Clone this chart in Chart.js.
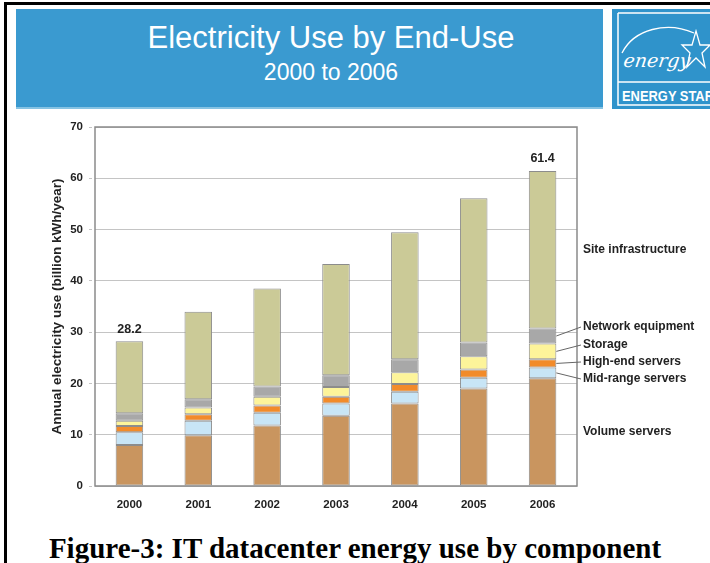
<!DOCTYPE html>
<html>
<head>
<meta charset="utf-8">
<script src="https://cdn.jsdelivr.net/npm/chart.js@4.4.1/dist/chart.umd.min.js"></script>
<style>
  html, body { margin: 0; padding: 0; background: #ffffff; }
  body { width: 710px; height: 563px; position: relative; overflow: hidden; font-family: "Liberation Sans", Arial, sans-serif; }
  .frame-top { position: absolute; left: 4px; top: 2px; width: 706px; height: 3px; background: #000; }
  .frame-left { position: absolute; left: 4px; top: 2px; width: 3px; height: 561px; background: #000; }
  .banner { position: absolute; left: 16px; top: 9px; width: 587px; height: 98px; background: #3a9ad0; border-bottom: 2px solid #86c3e3; color: #fff; text-align: center; }
  .banner .t1 { position: absolute; left: 0; right: -43px; top: 11px; font-size: 31px; line-height: 36px; }
  .banner .t2 { position: absolute; left: 0; right: -43px; top: 50px; font-size: 23px; line-height: 26px; }
  .logo { position: absolute; left: 612px; top: 9px; width: 98px; height: 100px; }
  .caption { position: absolute; left: 0; width: 710px; top: 531px; text-align: center; font-family: "Liberation Serif", "Times New Roman", serif; font-weight: bold; font-size: 29px; line-height: 34px; color: #000; }
  #chart { position: absolute; left: 0; top: 0; }
</style>
</head>
<body>
<div class="frame-top"></div>
<div class="frame-left"></div>
<div class="banner">
  <div class="t1">Electricity Use by End-Use</div>
  <div class="t2">2000 to 2006</div>
</div>
<svg class="logo" width="98" height="100" viewBox="0 0 98 100">
  <rect x="0" y="0" width="98" height="100" fill="#2f93cb"/>
  <path d="M6 4 H98 M6 4 V96 H98" stroke="#ffffff" stroke-width="1.5" fill="none"/>
  <path d="M10 44 C 22 20, 55 12, 82 24" stroke="#ffffff" stroke-width="1.3" fill="none"/>
  <text x="11" y="58" fill="#ffffff" font-family="DejaVu Serif, serif" font-style="italic" font-size="19" transform="skewX(-8) translate(8 0)">energy</text>
  <path d="M84 22 L88 36 L98 36 L90 44 L93 58 L84 49 L75 58 L78 44 L70 36 L80 36 Z" stroke="#ffffff" stroke-width="1.3" fill="none"/>
  <line x1="6" y1="73" x2="98" y2="73" stroke="#ffffff" stroke-width="1.5"/>
  <text x="10" y="92" fill="#ffffff" font-family="Liberation Sans Narrow, Liberation Sans, sans-serif" font-weight="bold" font-size="15" textLength="92" lengthAdjust="spacingAndGlyphs">ENERGY STAR</text>
</svg>
<div class="caption">Figure-3: IT datacenter energy use by component</div>
<canvas id="chart" width="710" height="563"></canvas>
<script>
// Annual electricity use, billion kWh/year, by end-use component
const years = ['2000', '2001', '2002', '2003', '2004', '2005', '2006'];
const volumeServers      = [8.0, 9.9, 11.8, 13.7, 16.1, 19.0, 21.0];
const midRangeServers    = [2.5, 2.8, 2.5, 2.4, 2.3, 2.1, 2.1];
const highEndServers     = [1.2, 1.3, 1.4, 1.3, 1.5, 1.6, 1.6];
const storage            = [1.0, 1.3, 1.7, 1.9, 2.3, 2.6, 3.1];
const networkEquipment   = [1.5, 1.6, 2.0, 2.3, 2.5, 2.7, 2.9];
const siteInfrastructure = [14.0, 17.1, 19.1, 21.7, 24.8, 28.1, 30.7];
const seriesNames = ['Volume servers', 'Mid-range servers', 'High-end servers', 'Storage', 'Network equipment', 'Site infrastructure'];
const totalLabelYears = ['2000', '2006'];

const seriesColors = ['#c9955f', '#c8e5f6', '#f28b2a', '#fdf49a', '#a8a8a8', '#cbca97'];
const seriesValues = [volumeServers, midRangeServers, highEndServers, storage, networkEquipment, siteInfrastructure];

const datasets = seriesValues.map((vals, i) => ({
  label: seriesNames[i],
  data: vals,
  backgroundColor: seriesColors[i],
  borderColor: '#8c8c8c',
  borderWidth: 1,
  borderSkipped: false,
  categoryPercentage: 1.0,
  barPercentage: 0.4
}));

const bold = (size) => ({ family: '"Liberation Sans", Arial, sans-serif', size: size, weight: 'bold' });

// Box around the plot area
const plotBox = {
  id: 'plotBox',
  beforeDatasetsDraw(chart) {
    const { ctx, chartArea: a } = chart;
    ctx.save();
    ctx.strokeStyle = '#8a8a8a';
    ctx.lineWidth = 1.5;
    ctx.strokeRect(a.left, a.top, a.right - a.left, a.bottom - a.top);
    ctx.restore();
  }
};

// Stack totals above selected bars
const totalLabels = {
  id: 'totalLabels',
  afterDatasetsDraw(chart) {
    const { ctx } = chart;
    const y = chart.scales.y;
    const x = chart.scales.x;
    ctx.save();
    ctx.font = 'bold 12.5px "Liberation Sans", Arial, sans-serif';
    ctx.fillStyle = '#222';
    ctx.textAlign = 'center';
    ctx.textBaseline = 'bottom';
    totalLabelYears.forEach(yr => {
      const i = years.indexOf(yr);
      const total = seriesValues.reduce((s, v) => s + v[i], 0);
      ctx.fillText(total.toFixed(1), x.getPixelForValue(i), y.getPixelForValue(total) - 6);
    });
    ctx.restore();
  }
};

// Component names to the right of the last bar, with leader lines
const seriesLabels = {
  id: 'seriesLabels',
  afterDatasetsDraw(chart) {
    const { ctx, chartArea: a } = chart;
    const y = chart.scales.y;
    const last = years.length - 1;
    const meta = chart.getDatasetMeta(0).data[last];
    const barRight = meta.x + meta.width / 2;
    const labelX = a.right + 6;
    // vertical positions of the labels that use leader lines
    const leaderY = { 1: 379, 2: 362, 3: 345, 4: 327 };
    ctx.save();
    ctx.font = 'bold 12px "Liberation Sans", Arial, sans-serif';
    ctx.fillStyle = '#222';
    ctx.textAlign = 'left';
    ctx.textBaseline = 'middle';
    ctx.strokeStyle = '#666';
    ctx.lineWidth = 1;
    let base = 0;
    seriesValues.forEach((vals, i) => {
      const mid = base + vals[last] / 2;
      base += vals[last];
      const midPx = y.getPixelForValue(mid);
      if (leaderY[i] !== undefined) {
        ctx.beginPath();
        ctx.moveTo(barRight, midPx);
        ctx.lineTo(labelX - 2, leaderY[i]);
        ctx.stroke();
        ctx.fillText(seriesNames[i], labelX, leaderY[i]);
      } else {
        ctx.fillText(seriesNames[i], labelX, midPx);
      }
    });
    ctx.restore();
  }
};

new Chart(document.getElementById('chart'), {
  type: 'bar',
  data: { labels: years, datasets: datasets },
  options: {
    responsive: false,
    devicePixelRatio: 1,
    animation: false,
    layout: { padding: { left: 45, right: 133, top: 127, bottom: 47 } },
    plugins: { legend: { display: false }, tooltip: { enabled: false } },
    scales: {
      x: {
        stacked: true,
        grid: { display: false, drawTicks: false },
        border: { display: false },
        ticks: { color: '#222', font: bold(11.5), padding: 12 },
        afterFit(scale) { scale.height = 30; }
      },
      y: {
        stacked: true,
        min: 0,
        max: 70,
        ticks: { stepSize: 10, color: '#222', font: bold(11.5), padding: 6 },
        grid: { color: '#c4c4c4', borderDash: [3, 3], tickBorderDash: [3, 3], tickLength: 6, lineWidth: 1 },
        border: { display: false },
        title: {
          display: true,
          text: 'Annual electricity use (billion kWh/year)',
          color: '#222',
          font: bold(13.5),
          padding: { top: 4, bottom: 4 }
        },
        afterFit(scale) { scale.width = 50; }
      }
    }
  },
  plugins: [plotBox, totalLabels, seriesLabels]
});
</script>
</body>
</html>
